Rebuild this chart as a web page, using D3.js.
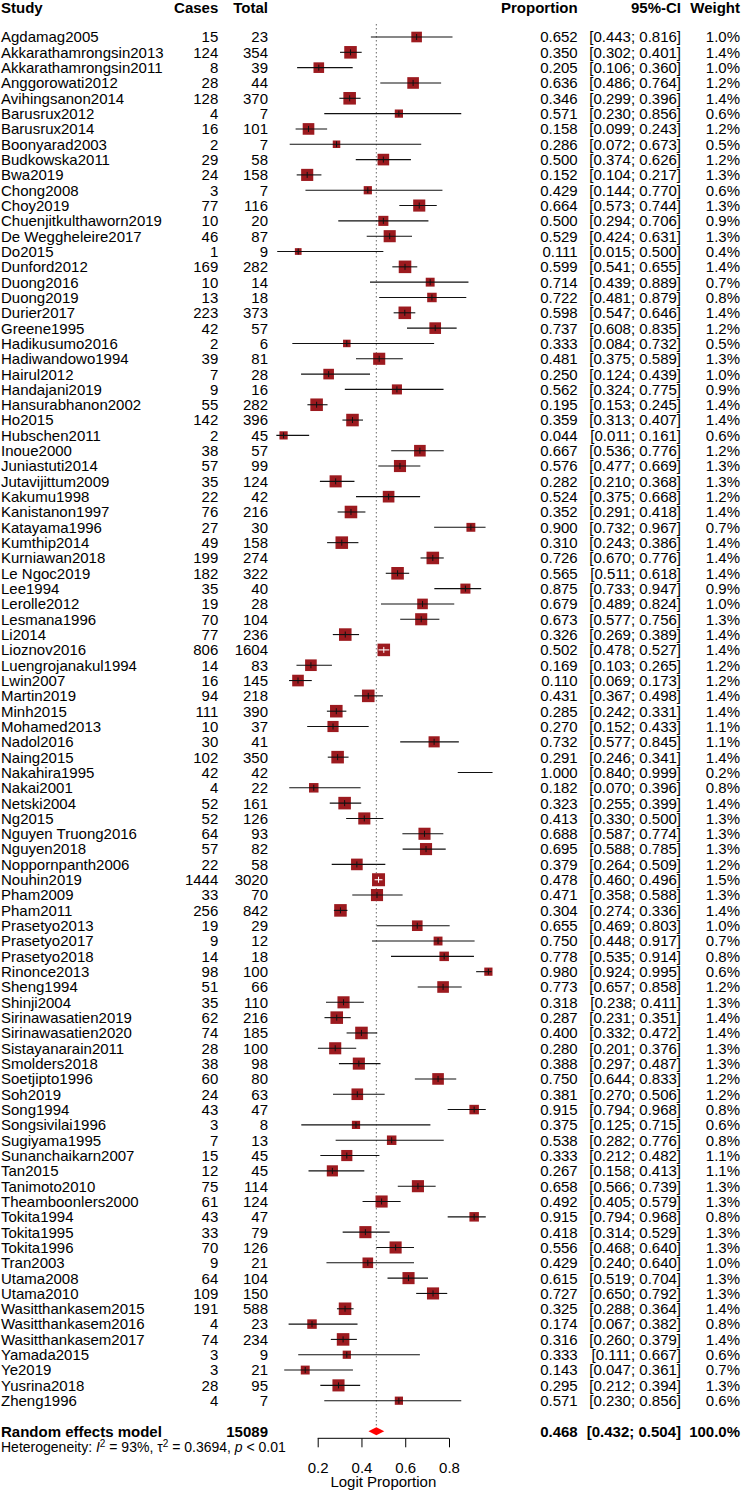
<!DOCTYPE html>
<html>
<head>
<meta charset="utf-8">
<script src="https://cdn.jsdelivr.net/npm/d3@7"></script>
<style>
  body { margin: 0; background: #fff; }
  svg { display: block; }
</style>
</head>
<body>
<svg id="chart"></svg>
<script>
// study data
const studies = ["Agdamag2005","Akkarathamrongsin2013","Akkarathamrongsin2011","Anggorowati2012","Avihingsanon2014","Barusrux2012","Barusrux2014","Boonyarad2003","Budkowska2011","Bwa2019","Chong2008","Choy2019","Chuenjitkulthaworn2019","De Weggheleire2017","Do2015","Dunford2012","Duong2016","Duong2019","Durier2017","Greene1995","Hadikusumo2016","Hadiwandowo1994","Hairul2012","Handajani2019","Hansurabhanon2002","Ho2015","Hubschen2011","Inoue2000","Juniastuti2014","Jutavijittum2009","Kakumu1998","Kanistanon1997","Katayama1996","Kumthip2014","Kurniawan2018","Le Ngoc2019","Lee1994","Lerolle2012","Lesmana1996","Li2014","Lioznov2016","Luengrojanakul1994","Lwin2007","Martin2019","Minh2015","Mohamed2013","Nadol2016","Naing2015","Nakahira1995","Nakai2001","Netski2004","Ng2015","Nguyen Truong2016","Nguyen2018","Noppornpanth2006","Nouhin2019","Pham2009","Pham2011","Prasetyo2013","Prasetyo2017","Prasetyo2018","Rinonce2013","Sheng1994","Shinji2004","Sirinawasatien2019","Sirinawasatien2020","Sistayanarain2011","Smolders2018","Soetjipto1996","Soh2019","Song1994","Songsivilai1996","Sugiyama1995","Sunanchaikarn2007","Tan2015","Tanimoto2010","Theamboonlers2000","Tokita1994","Tokita1995","Tokita1996","Tran2003","Utama2008","Utama2010","Wasitthankasem2015","Wasitthankasem2016","Wasitthankasem2017","Yamada2015","Ye2019","Yusrina2018","Zheng1996"];

const cases = [15,124,8,28,128,4,16,2,29,24,3,77,10,46,1,169,10,13,223,42,2,39,7,9,55,142,2,38,57,35,22,76,27,49,199,182,35,19,70,77,806,14,16,94,111,10,30,102,42,4,52,52,64,57,22,1444,33,256,19,9,14,98,51,35,62,74,28,38,60,24,43,3,7,15,12,75,61,43,33,70,9,64,109,191,4,74,3,3,28,4];

const totals = [23,354,39,44,370,7,101,7,58,158,7,116,20,87,9,282,14,18,373,57,6,81,28,16,282,396,45,57,99,124,42,216,30,158,274,322,40,28,104,236,1604,83,145,218,390,37,41,350,42,22,161,126,93,82,58,3020,70,842,29,12,18,100,66,110,216,185,100,98,80,63,47,8,13,45,45,114,124,47,79,126,21,104,150,588,23,234,9,21,95,7];

const proportion = [0.652,0.350,0.205,0.636,0.346,0.571,0.158,0.286,0.500,0.152,0.429,0.664,0.500,0.529,0.111,0.599,0.714,0.722,0.598,0.737,0.333,0.481,0.250,0.562,0.195,0.359,0.044,0.667,0.576,0.282,0.524,0.352,0.900,0.310,0.726,0.565,0.875,0.679,0.673,0.326,0.502,0.169,0.110,0.431,0.285,0.270,0.732,0.291,1.000,0.182,0.323,0.413,0.688,0.695,0.379,0.478,0.471,0.304,0.655,0.750,0.778,0.980,0.773,0.318,0.287,0.400,0.280,0.388,0.750,0.381,0.915,0.375,0.538,0.333,0.267,0.658,0.492,0.915,0.418,0.556,0.429,0.615,0.727,0.325,0.174,0.316,0.333,0.143,0.295,0.571];

const ciLower = [0.443,0.302,0.106,0.486,0.299,0.230,0.099,0.072,0.374,0.104,0.144,0.573,0.294,0.424,0.015,0.541,0.439,0.481,0.547,0.608,0.084,0.375,0.124,0.324,0.153,0.313,0.011,0.536,0.477,0.210,0.375,0.291,0.732,0.243,0.670,0.511,0.733,0.489,0.577,0.269,0.478,0.103,0.069,0.367,0.242,0.152,0.577,0.246,0.840,0.070,0.255,0.330,0.587,0.588,0.264,0.460,0.358,0.274,0.469,0.448,0.535,0.924,0.657,0.238,0.231,0.332,0.201,0.297,0.644,0.270,0.794,0.125,0.282,0.212,0.158,0.566,0.405,0.794,0.314,0.468,0.240,0.519,0.650,0.288,0.067,0.260,0.111,0.047,0.212,0.230];

const ciUpper = [0.816,0.401,0.360,0.764,0.396,0.856,0.243,0.673,0.626,0.217,0.770,0.744,0.706,0.631,0.500,0.655,0.889,0.879,0.646,0.835,0.732,0.589,0.439,0.775,0.245,0.407,0.161,0.776,0.669,0.368,0.668,0.418,0.967,0.386,0.776,0.618,0.947,0.824,0.756,0.389,0.527,0.265,0.173,0.498,0.331,0.433,0.845,0.341,0.999,0.396,0.399,0.500,0.774,0.785,0.509,0.496,0.588,0.336,0.803,0.917,0.914,0.995,0.858,0.411,0.351,0.472,0.376,0.487,0.833,0.506,0.968,0.715,0.776,0.482,0.413,0.739,0.579,0.968,0.529,0.640,0.640,0.704,0.792,0.364,0.382,0.379,0.667,0.361,0.394,0.856];

const weights = [1.0,1.4,1.0,1.2,1.4,0.6,1.2,0.5,1.2,1.3,0.6,1.3,0.9,1.3,0.4,1.4,0.7,0.8,1.4,1.2,0.5,1.3,1.0,0.9,1.4,1.4,0.6,1.2,1.3,1.3,1.2,1.4,0.7,1.4,1.4,1.4,0.9,1.0,1.3,1.4,1.4,1.2,1.2,1.4,1.4,1.1,1.1,1.4,0.2,0.8,1.4,1.3,1.3,1.3,1.2,1.5,1.3,1.4,1.0,0.7,0.8,0.6,1.2,1.3,1.4,1.4,1.3,1.3,1.2,1.2,0.8,0.6,0.8,1.1,1.1,1.3,1.3,0.8,1.3,1.3,1.0,1.3,1.3,1.4,0.8,1.4,0.6,0.7,1.3,0.6];

// pooled estimate
const pooled = { label: "Random effects model", total: 15089, est: 0.468, lower: 0.432, upper: 0.504, weight: 100.0 };
const axisTicks = [0.2, 0.4, 0.6, 0.8];

const width = 741, height = 1490;
const font = "'Liberation Sans', Arial, Helvetica, sans-serif";
const fs = 15;
const squareCol = "#9c1a1f";

const svg = d3.select("#chart")
    .attr("width", width)
    .attr("height", height)
    .attr("font-family", font)
    .attr("font-size", fs);

const x = d3.scaleLinear().domain([0.2, 0.8]).range([317.7, 449]);
// row index -> y centre
const y = d3.scaleLinear().domain([0, 89]).range([37, 1400.7]);
const side = d3.scaleSqrt().domain([0, 1.5]).range([0, 13]);

const f3 = d3.format(".3f");
const f1 = d3.format(".1f");

const rows = studies.map((s, i) => ({
    study: s, cases: cases[i], total: totals[i],
    est: proportion[i], lo: ciLower[i], hi: ciUpper[i], w: weights[i], i
}));

const colStudy = 1, colCases = 218.3, colTotal = 268, colProp = 577.7, colCI = 681, colW = 740;

// headers
const head = svg.append("g").attr("font-weight", "bold");
const hy = 13;
head.append("text").attr("x", colStudy).attr("y", hy).text("Study");
head.append("text").attr("x", colCases).attr("y", hy).attr("text-anchor", "end").text("Cases");
head.append("text").attr("x", colTotal).attr("y", hy).attr("text-anchor", "end").text("Total");
head.append("text").attr("x", colProp).attr("y", hy).attr("text-anchor", "end").text("Proportion");
head.append("text").attr("x", colCI).attr("y", hy).attr("text-anchor", "end").text("95%-CI");
head.append("text").attr("x", colW).attr("y", hy).attr("text-anchor", "end").text("Weight");

// reference line at pooled estimate
svg.append("line")
    .attr("x1", x(pooled.est)).attr("x2", x(pooled.est))
    .attr("y1", 24).attr("y2", y(91) - 5)
    .attr("stroke", "#777")
    .attr("stroke-width", 1.1)
    .attr("stroke-dasharray", "1.5,2.5");

// study rows
const row = svg.append("g").selectAll("g")
    .data(rows)
    .join("g")
    .attr("transform", d => `translate(0,${y(d.i)})`);

const txt = (sel, xx, anchor, fn) => sel.append("text")
    .attr("x", xx).attr("dy", "0.36em")
    .attr("text-anchor", anchor).text(fn);

txt(row, colStudy, "start", d => d.study);
txt(row, colCases, "end", d => d.cases);
txt(row, colTotal, "end", d => d.total);
txt(row, colProp, "end", d => f3(d.est));
txt(row, colCI, "end", d => `[${f3(d.lo)}; ${f3(d.hi)}]`);
txt(row, colW, "end", d => f1(d.w) + "%");

// no square when the estimate lies outside its own interval (Nakahira1995)
row.filter(d => d.est >= d.lo && d.est <= d.hi)
  .append("rect")
    .attr("x", d => x(d.est) - side(d.w) / 2)
    .attr("y", d => -side(d.w) / 2)
    .attr("width", d => side(d.w))
    .attr("height", d => side(d.w))
    .attr("fill", squareCol);

const inside = d => (x(d.hi) - x(d.lo)) < side(d.w);

row.append("line")
    .attr("x1", d => x(d.lo)).attr("x2", d => x(d.hi))
    .attr("y1", 0).attr("y2", 0)
    .attr("stroke", d => inside(d) ? "#fff" : "#111")
    .attr("stroke-width", 1.1);

row.filter(d => d.est >= d.lo && d.est <= d.hi)
  .append("line")
    .attr("x1", d => x(d.est)).attr("x2", d => x(d.est))
    .attr("y1", -3).attr("y2", 3)
    .attr("stroke", d => inside(d) ? "#fff" : "#111")
    .attr("stroke-width", 1);

// pooled row
const py = y(91);
const pg = svg.append("g").attr("font-weight", "bold").attr("transform", `translate(0,${py})`);
txt(pg, colStudy, "start", pooled.label);
txt(pg, colTotal, "end", pooled.total);
txt(pg, colProp, "end", f3(pooled.est));
txt(pg, colCI, "end", `[${f3(pooled.lower)}; ${f3(pooled.upper)}]`);
txt(pg, colW, "end", f1(pooled.weight) + "%");

const dh = 4;
svg.append("path")
    .attr("d", `M${x(pooled.lower)},${py} L${x(pooled.est)},${py - dh} L${x(pooled.upper)},${py} L${x(pooled.est)},${py + dh} Z`)
    .attr("fill", "#ff0000");

// heterogeneity
const het = svg.append("text")
    .attr("x", colStudy).attr("y", y(92)).attr("dy", "0.36em")
    .attr("font-size", 14);
het.append("tspan").text("Heterogeneity: ");
het.append("tspan").attr("font-style", "italic").text("I");
het.append("tspan").attr("font-size", 10).attr("dy", -5).text("2");
het.append("tspan").attr("dy", 5).text(" = 93%, τ");
het.append("tspan").attr("font-size", 10).attr("dy", -5).text("2");
het.append("tspan").attr("dy", 5).text(" = 0.3694, ");
het.append("tspan").attr("font-style", "italic").text("p");
het.append("tspan").text(" < 0.01");

// x axis
const axisY = 1438.3;
const ax = svg.append("g")
    .attr("transform", `translate(0,${axisY})`)
    .call(d3.axisBottom(x).tickValues(axisTicks).tickSize(9).tickPadding(15).tickFormat(d3.format(".1f")));
ax.select(".domain").attr("d", `M${x(0.2)},0H${x(0.8)}`).attr("stroke", "#000");
ax.selectAll(".tick line").attr("stroke", "#000");
ax.selectAll(".tick text")
    .attr("font-family", font).attr("font-size", fs).attr("fill", "#000");

svg.append("text")
    .attr("x", x(0.5)).attr("y", 1482).attr("dy", "0.36em")
    .attr("text-anchor", "middle")
    .text("Logit Proportion");
</script>
</body>
</html>
